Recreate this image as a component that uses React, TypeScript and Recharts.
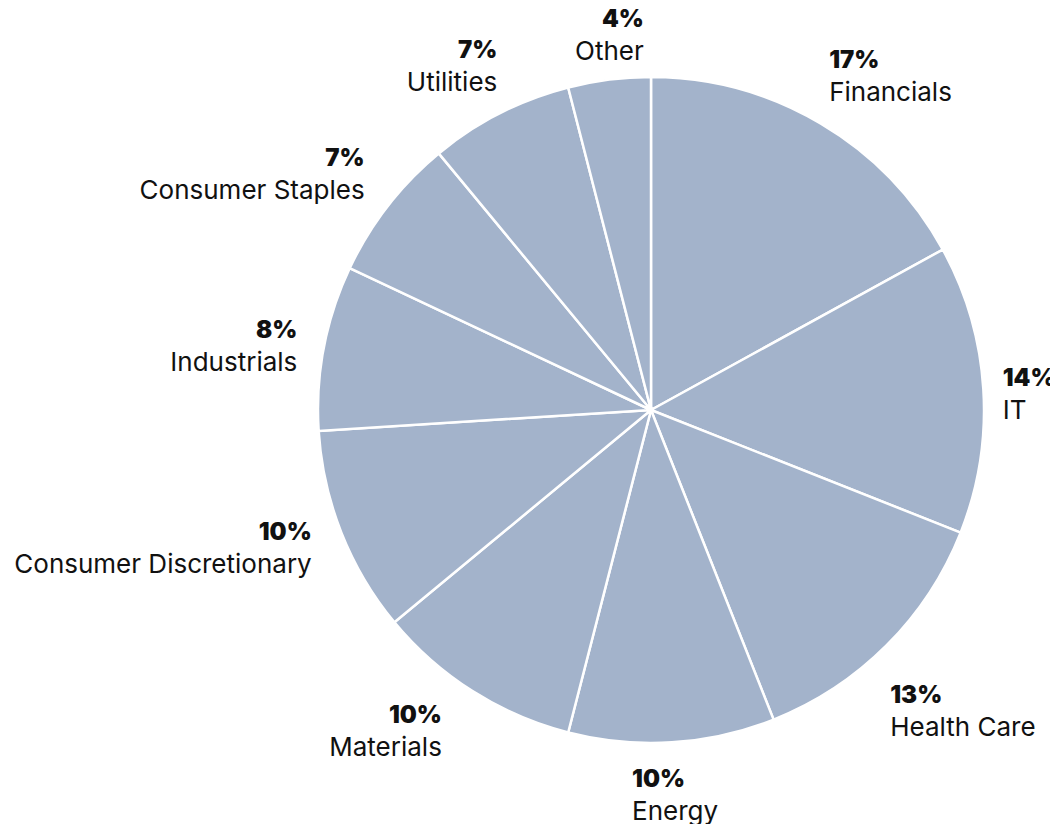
import { PieChart, Pie, Cell } from 'recharts';

const sectors = [
  'Financials',
  'IT',
  'Health Care',
  'Energy',
  'Materials',
  'Consumer Discretionary',
  'Industrials',
  'Consumer Staples',
  'Utilities',
  'Other',
];
const weights = [17, 14, 13, 10, 10, 10, 8, 7, 7, 4];

const data = sectors.map((name, i) => ({ name, value: weights[i] }));

// label placement: small angle nudge (clockwise deg) and distance past the rim
const LABEL_NUDGE = [-2.4, 1.3, 6.7, 6.4, 0.5, -0.8, -0.9, 1.5, 2.8, 6.1];
const LABEL_GAP = [44, 19, 53, 54, 52, 34, 26, 37, 42, 40];

const RAD = Math.PI / 180;
const FILL = '#a3b3cb';
const FONT = 'Inter, "Noto Sans", sans-serif';

const renderLabel = (props: any) => {
  const { cx, cy, midAngle, outerRadius, index, value, name } = props;
  const angle = midAngle - LABEL_NUDGE[index];
  const r = outerRadius + LABEL_GAP[index];
  const x = cx + r * Math.cos(angle * RAD);
  const y = cy - r * Math.sin(angle * RAD);
  // right half reads left-aligned, left half right-aligned
  const anchor = 90 - midAngle < 180 && 90 - midAngle > 0 ? 'start' : 'end';
  return (
    <g>
      <text
        x={x}
        y={y - 10}
        textAnchor={anchor}
        fill="#111"
        fontFamily={FONT}
        fontSize={24}
        fontWeight={900}
      >
        {`${value}%`}
      </text>
      <text
        x={x}
        y={y + 23}
        textAnchor={anchor}
        fill="#111"
        fontFamily={FONT}
        fontSize={26}
        fontWeight={400}
      >
        {name}
      </text>
    </g>
  );
};

export default function App() {
  return (
    <div style={{ width: 1050, height: 816 }}>
      <PieChart
        width={1050}
        height={816}
        margin={{ top: 0, right: 0, bottom: 0, left: 0 }}
        style={{ overflow: 'visible' }}
      >
        <Pie
          data={data}
          dataKey="value"
          nameKey="name"
          cx={643}
          cy={402}
          outerRadius={333}
          startAngle={90}
          endAngle={-270}
          stroke="#ffffff"
          strokeWidth={2.5}
          labelLine={false}
          label={renderLabel}
          isAnimationActive={false}
        >
          {data.map((_, i) => (
            <Cell key={`cell-${i}`} fill={FILL} />
          ))}
        </Pie>
      </PieChart>
    </div>
  );
}
